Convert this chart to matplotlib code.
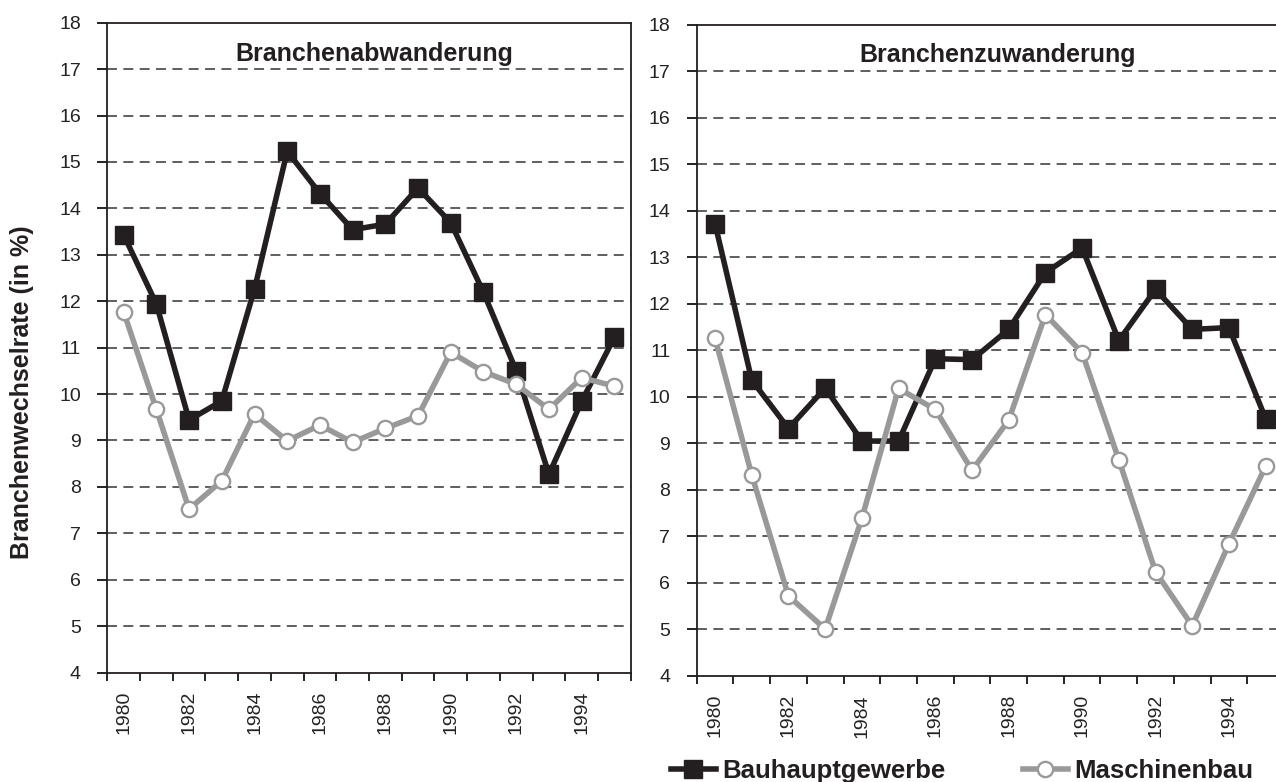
import matplotlib.pyplot as plt
import numpy as np

plt.rcParams['font.family'] = ['Liberation Sans', 'DejaVu Sans']

years = list(range(1980, 1996))

# Branchenabwanderung (links)
ab_bau = [13.43, 11.94, 9.44, 9.85, 12.26, 15.23, 14.32, 13.54, 13.66, 14.44,
          13.69, 12.19, 10.50, 8.27, 9.84, 11.22]
ab_masch = [11.77, 9.67, 7.52, 8.13, 9.57, 8.99, 9.33, 8.96, 9.26, 9.53,
            10.90, 10.48, 10.21, 9.67, 10.35, 10.17]

# Branchenzuwanderung (rechts)
zu_bau = [13.72, 10.36, 9.32, 10.19, 9.05, 9.05, 10.82, 10.80, 11.45, 12.67,
          13.20, 11.21, 12.31, 11.45, 11.49, 9.53]
zu_masch = [11.26, 8.32, 5.72, 5.01, 7.39, 10.18, 9.73, 8.42, 9.50, 11.77,
            10.95, 8.65, 6.24, 5.08, 6.84, 8.51]

titles = ['Branchenabwanderung', 'Branchenzuwanderung']
ylabel = 'Branchenwechselrate (in %)'
names = ['Bauhauptgewerbe', 'Maschinenbau']

W, H = 1276, 782
fig = plt.figure(figsize=(W / 100, H / 100), dpi=100)

# Achsenpositionen in Pixel (links, oben, rechts, unten)
boxes = [(107.3, 22.7, 630.7, 672.5), (696.7, 24.7, 1284.0, 676.0)]
title_pos = [(0.51, 0.941), (0.513, 0.943)]

black = '#231f20'
gray = '#999999'
x = np.arange(len(years))
lines = None

for b, t, tp, dat in zip(boxes, titles, title_pos,
                         [(ab_bau, ab_masch), (zu_bau, zu_masch)]):
    l, top, r, bot = b
    ax = fig.add_axes([l / W, 1 - bot / H, (r - l) / W, (bot - top) / H])
    ax.set_xlim(-0.5, len(years) - 0.5)
    ax.set_ylim(4, 18)
    ax.set_yticks(range(4, 19))
    for yv in range(5, 18):
        ax.axhline(yv, color='#333333', lw=1.1, dashes=(6.5, 4.2), zorder=1)

    lb, = ax.plot(x, dat[0], color=black, lw=4, marker='s', ms=13,
                  mfc=black, mec=black, zorder=3, clip_on=False)
    lm, = ax.plot(x, dat[1], color=gray, lw=4, marker='o', ms=11,
                  mfc='white', mec=gray, mew=1.7, zorder=4, clip_on=False)
    lines = (lb, lm)

    ax.set_xticks(np.arange(-0.5, len(years), 1))
    ax.set_xticklabels([])
    ax.set_xticks(x[::2], minor=True)
    ax.set_xticklabels([str(y) for y in years[::2]], minor=True, rotation=90,
                       fontsize=14, color='#222222')
    ax.tick_params(axis='x', which='major', direction='out', length=6, width=1.2)
    ax.tick_params(axis='x', which='minor', length=0, pad=13)
    ax.tick_params(axis='y', direction='out', length=7, width=1.2, pad=12,
                   labelsize=14, labelcolor='#222222')
    for s in ax.spines.values():
        s.set_linewidth(1.3)
        s.set_color(black)

    ax.text(tp[0], tp[1], t, transform=ax.transAxes, ha='center', va='baseline',
            fontsize=18, fontweight='bold', color=black)

fig.text(22 / W, 0.499, ylabel, rotation=90, ha='center', va='center',
         fontsize=18, fontweight='bold', color=black)

leg = fig.legend(lines, names, loc='center', bbox_to_anchor=(962 / W, 1 - 771 / H),
                 ncol=2, frameon=False, fontsize=18.5, handlelength=1.75,
                 columnspacing=3.0, handletextpad=0.25, borderpad=0)
for txt in leg.get_texts():
    txt.set_fontweight('bold')
    txt.set_color(black)

fig.savefig('out.png', dpi=100)
